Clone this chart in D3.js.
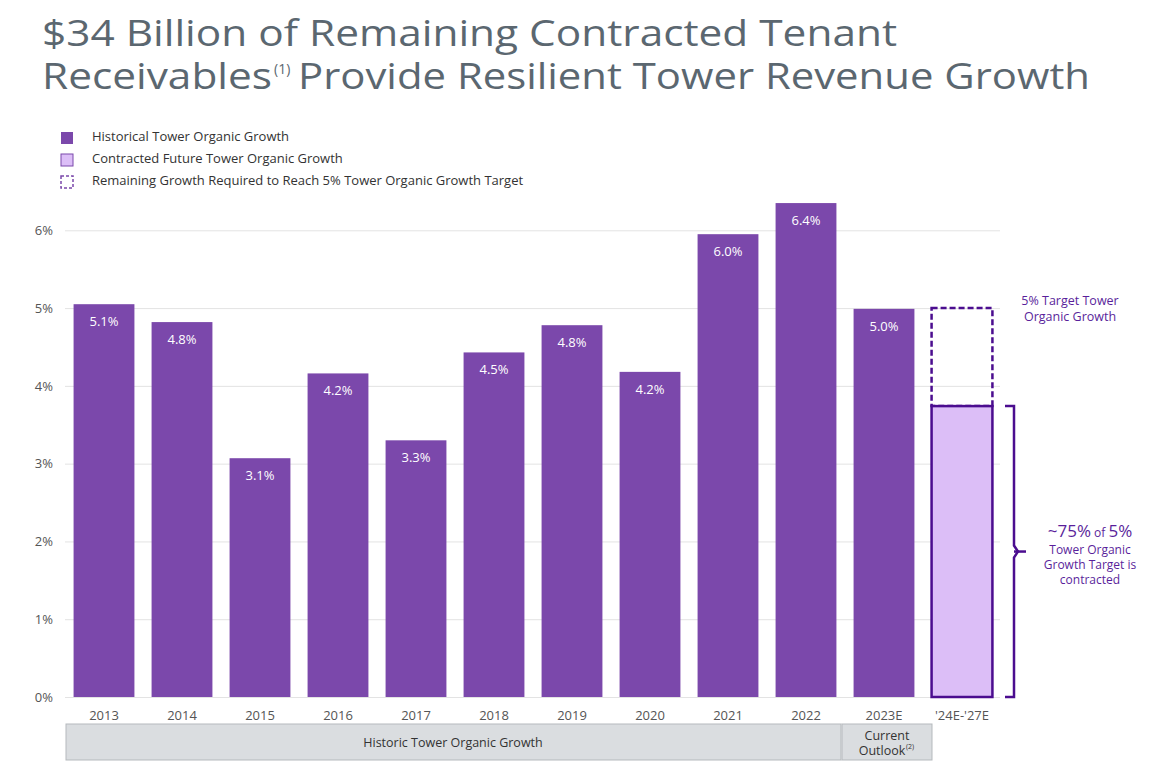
<!DOCTYPE html>
<html><head><meta charset="utf-8">
<script src="https://cdn.jsdelivr.net/npm/d3@7"></script>
<style>body{margin:0;background:#fff;font-family:"Open Sans",sans-serif}</style>
</head><body>
<svg id="chart" width="1153" height="766"></svg>
<script>
const years = ["2013","2014","2015","2016","2017","2018","2019","2020","2021","2022","2023E","'24E-'27E"]
const historical = [5.05, 4.82, 3.07, 4.16, 3.30, 4.43, 4.78, 4.18, 5.95, 6.35, 4.99]
const labels = ["5.1%","4.8%","3.1%","4.2%","3.3%","4.5%","4.8%","4.2%","6.0%","6.4%","5.0%"]
const contracted = 3.74
const target = 5
const yTicks = [0,1,2,3,4,5,6]

const svg = d3.select("#chart")
const dark = "#7b48ab", light = "#dcbef7", line = "#4b0d8f", textPurple = "#5a1f9b"

// title
svg.append("text").attr("x", 42).attr("y", 46).text("$34 Billion of Remaining Contracted Tenant")
    .attr("textLength", 855).attr("lengthAdjust", "spacingAndGlyphs")
    .style("font-size", "36px").style("fill", "#5b6770")
svg.append("text").attr("x", 42).attr("y", 89).text("Receivables")
    .attr("textLength", 230).attr("lengthAdjust", "spacingAndGlyphs")
    .style("font-size", "36px").style("fill", "#5b6770")
svg.append("text").attr("x", 274).attr("y", 74).text("(1)").style("font-size", "14px").style("fill", "#5b6770")
svg.append("text").attr("x", 298).attr("y", 89).text("Provide Resilient Tower Revenue Growth")
    .attr("textLength", 792).attr("lengthAdjust", "spacingAndGlyphs")
    .style("font-size", "36px").style("fill", "#5b6770")

// legend
const leg = [["Historical Tower Organic Growth", "fill"], ["Contracted Future Tower Organic Growth", "light"], ["Remaining Growth Required to Reach 5% Tower Organic Growth Target", "dash"]]
leg.forEach(function (d, i) {
    let y = 138 + i * 22
    let r = svg.append("rect").attr("x", 61).attr("y", y - 6).attr("width", 12).attr("height", 12)
    if (d[1] == "fill") r.style("fill", dark)
    else if (d[1] == "light") r.style("fill", light).style("stroke", dark).style("stroke-width", 1)
    else r.style("fill", "none").style("stroke", dark).style("stroke-width", 1.5).style("stroke-dasharray", "3,2")
    svg.append("text").attr("x", 92).attr("y", y).attr("dominant-baseline", "middle").text(d[0])
        .style("font-size", "13px").style("fill", "#333")
})

const x = d3.scaleBand().domain(years).range([65, 1001]).paddingInner(0.22).paddingOuter(0.11)
const y = d3.scaleLinear().domain([0, 6]).range([697, 230.3])

// grid
svg.append("g").attr("transform", "translate(65,0)")
    .call(d3.axisLeft(y).tickValues(yTicks).tickSize(-935).tickFormat(d => d + "%"))
    .call(g => g.select(".domain").remove())
    .call(g => g.selectAll("line").style("stroke", "#e3e3e3"))
    .call(g => g.selectAll("text").attr("x", -12).style("font-size", "13px").style("fill", "#555").style("font-family", "Open Sans"))

// bars
svg.selectAll(".bar").data(historical).enter().append("rect")
    .attr("x", (d, i) => x(years[i])).attr("width", x.bandwidth())
    .attr("y", d => y(d)).attr("height", d => y(0) - y(d)).style("fill", dark)
svg.selectAll(".lbl").data(historical).enter().append("text")
    .attr("x", (d, i) => x(years[i]) + x.bandwidth() / 2).attr("y", d => y(d) + 22)
    .attr("text-anchor", "middle").text((d, i) => labels[i]).style("fill", "#fff").style("font-size", "13px")

const fx = x(years[11]), bw = x.bandwidth()
svg.append("rect").attr("x", fx).attr("width", bw).attr("y", y(target)).attr("height", y(contracted) - y(target))
    .style("fill", "none").style("stroke", line).style("stroke-width", 2.5).style("stroke-dasharray", "6,3")
svg.append("rect").attr("x", fx).attr("width", bw).attr("y", y(contracted)).attr("height", y(0) - y(contracted))
    .style("fill", light).style("stroke", line).style("stroke-width", 2.5)

// x labels
svg.selectAll(".xl").data(years).enter().append("text")
    .attr("x", d => x(d) + bw / 2).attr("y", 720).attr("text-anchor", "middle").text(d => d)
    .style("font-size", "13px").style("fill", "#555")

// bottom boxes
svg.append("rect").attr("x", 66).attr("y", 724).attr("width", 775).attr("height", 36).style("fill", "#dadde0").style("stroke", "#b5b9bd")
svg.append("text").attr("x", 453).attr("y", 747).attr("text-anchor", "middle").text("Historic Tower Organic Growth").style("font-size", "12.5px").style("fill", "#333")
svg.append("rect").attr("x", 842).attr("y", 724).attr("width", 90).attr("height", 36).style("fill", "#dadde0").style("stroke", "#b5b9bd")
svg.append("text").attr("x", 887).attr("y", 740).attr("text-anchor", "middle").text("Current").style("font-size", "12.5px").style("fill", "#333")
svg.append("text").attr("x", 882).attr("y", 755).attr("text-anchor", "middle").text("Outlook").style("font-size", "12.5px").style("fill", "#333")
svg.append("text").attr("x", 906).attr("y", 749).text("(2)").style("font-size", "7px").style("fill", "#333")

// bracket
const bx = 1005
svg.append("path").attr("d", `M${bx},${y(contracted)} h9 v${(y(0) - y(contracted)) / 2 - 6} l4,6 l-4,6 v${(y(0) - y(contracted)) / 2 - 6} h-9`)
    .style("fill", "none").style("stroke", line).style("stroke-width", 2.5)
svg.append("path").attr("d", `M1014,${(y(0) + y(contracted)) / 2} h12`).style("stroke", line).style("stroke-width", 2.5)

// annotations
svg.append("text").attr("x", 1070).attr("y", 305).attr("text-anchor", "middle").text("5% Target Tower").style("fill", textPurple).style("font-size", "12.5px")
svg.append("text").attr("x", 1070).attr("y", 321).attr("text-anchor", "middle").text("Organic Growth").style("fill", textPurple).style("font-size", "12.5px")
const big = svg.append("text").attr("x", 1090).attr("y", 537).attr("text-anchor", "middle").style("fill", textPurple)
big.append("tspan").text("~75%").style("font-size", "17px")
big.append("tspan").text(" of ").style("font-size", "12px")
big.append("tspan").text("5%").style("font-size", "17px")
;["Tower Organic", "Growth Target is", "contracted"].forEach(function (s, i) {
    svg.append("text").attr("x", 1090).attr("y", 554 + i * 15).attr("text-anchor", "middle").text(s).style("fill", textPurple).style("font-size", "12px")
})
</script>
</body></html>
